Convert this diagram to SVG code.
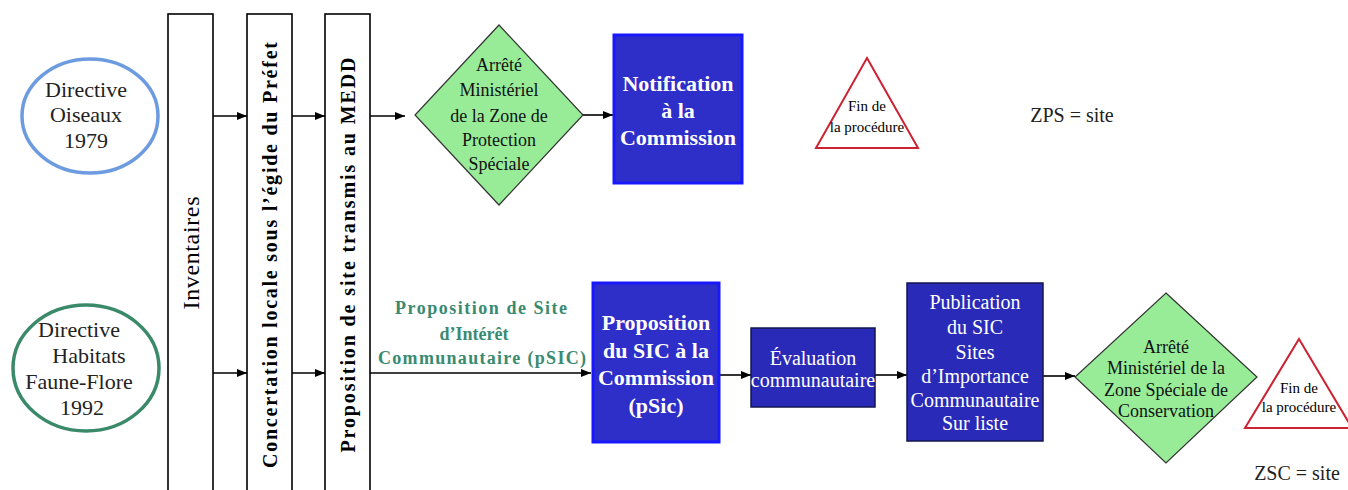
<svg xmlns="http://www.w3.org/2000/svg" width="1348" height="490" viewBox="0 0 1348 490">
<defs>
<marker id="ah" viewBox="0 0 10 10" refX="10" refY="5" markerWidth="10" markerHeight="10" markerUnits="userSpaceOnUse" orient="auto">
<path d="M0,1 L10,5 L0,9 Z" fill="#000"/>
</marker>
<style>
text{font-family:'Liberation Serif','DejaVu Serif',serif;text-anchor:middle;dominant-baseline:central}
.vbar{fill:#fff;stroke:#000;stroke-width:1.6}
.vt{font-size:24px;fill:#000}
.vtb{font-size:20px;font-weight:bold;fill:#000}
.dia{fill:#98ec98;stroke:#333;stroke-width:1.2}
.dt{font-size:18px;fill:#111}
.bb{fill:#2e2ec8;stroke:#1818ff;stroke-width:3}
.bd{fill:#2a2ab8;stroke:#141450;stroke-width:1.5}
.wtb{font-size:22px;font-weight:bold;fill:#fff}
.wt{font-size:20px;fill:#fff}
.tri{fill:#fff;stroke:#cc2233;stroke-width:2}
.tt{font-size:15px;fill:#000}
.ell{fill:#fff;stroke-width:3.5}
.et{font-size:22px;fill:#222}
.conn{stroke:#000;stroke-width:1.6;fill:none;marker-end:url(#ah)}
.lbl{font-size:18px;font-weight:bold;fill:#3a8a70}
.note{font-size:20px;fill:#222}
</style>
</defs>
<rect width="1348" height="490" fill="#fff"/>

<g id="connectors">
<line class="conn" x1="213" y1="116" x2="247" y2="116"/>
<line class="conn" x1="292" y1="116" x2="325" y2="116"/>
<line class="conn" x1="370" y1="116" x2="405" y2="116"/>
<line class="conn" x1="583" y1="115" x2="613" y2="115"/>
<line class="conn" x1="213" y1="373" x2="247" y2="373"/>
<line class="conn" x1="292" y1="373" x2="325" y2="373"/>
<line class="conn" x1="370" y1="373" x2="591" y2="373"/>
<line class="conn" x1="720" y1="375" x2="751" y2="375"/>
<line class="conn" x1="875" y1="375" x2="907" y2="375"/>
<line class="conn" x1="1043" y1="376" x2="1075" y2="376"/>
</g>

<g id="directive-oiseaux">
<ellipse class="ell" cx="90" cy="116" rx="68" ry="57" stroke="#6d9be0"/>
<text class="et" x="86" y="89">Directive</text>
<text class="et" x="86" y="114">Oiseaux</text>
<text class="et" x="86" y="140">1979</text>
</g>

<g id="directive-habitats">
<ellipse class="ell" cx="86" cy="368" rx="73" ry="63" stroke="#3a8a6a"/>
<text class="et" x="79" y="329">Directive</text>
<text class="et" x="89" y="355">Habitats</text>
<text class="et" x="79" y="381">Faune-Flore</text>
<text class="et" x="82" y="407">1992</text>
</g>

<g id="inventaires">
<rect class="vbar" x="168" y="14" width="45" height="490"/>
<text class="vt" transform="translate(191,253) rotate(-90)" textLength="113">Inventaires</text>
</g>

<g id="concertation">
<rect class="vbar" x="247" y="14" width="45" height="490"/>
<text class="vtb" transform="translate(270,255) rotate(-90)" textLength="426">Concertation locale sous l’égide du Préfet</text>
</g>

<g id="proposition-site">
<rect class="vbar" x="325" y="14" width="45" height="490"/>
<text class="vtb" transform="translate(348,255) rotate(-90)" textLength="395">Proposition de site transmis au MEDD</text>
</g>

<g id="arrete-zps">
<polygon class="dia" points="499,25 583,115 499,205 415,115"/>
<text class="dt" x="499" y="65">Arrêté</text>
<text class="dt" x="499" y="90">Ministériel</text>
<text class="dt" x="499" y="116">de la Zone de</text>
<text class="dt" x="499" y="140">Protection</text>
<text class="dt" x="499" y="164">Spéciale</text>
</g>

<g id="notification">
<rect class="bb" x="614" y="35" width="128" height="148"/>
<text class="wtb" x="678" y="83">Notification</text>
<text class="wtb" x="678" y="110">à la</text>
<text class="wtb" x="678" y="137">Commission</text>
</g>

<g id="fin-zps">
<polygon class="tri" points="867,58 918,148 816,148"/>
<text class="tt" x="867" y="106">Fin de</text>
<text class="tt" x="867" y="127">la procédure</text>
</g>

<g id="zps-note">
<text class="note" x="1072" y="115">ZPS = site</text>
</g>

<g id="psic-label">
<text class="lbl" x="481" y="308" textLength="172">Proposition de Site</text>
<text class="lbl" x="474" y="334">d’Intérêt</text>
<text class="lbl" x="482" y="358" textLength="208">Communautaire (pSIC)</text>
</g>

<g id="proposition-sic">
<rect class="bb" x="593" y="283" width="126" height="159"/>
<text class="wtb" x="656" y="322">Proposition</text>
<text class="wtb" x="656" y="350">du SIC à la</text>
<text class="wtb" x="656" y="377">Commission</text>
<text class="wtb" x="656" y="405">(pSic)</text>
</g>

<g id="evaluation">
<rect class="bd" x="751" y="328" width="124" height="79"/>
<text class="wt" x="813" y="358" font-size="15">Évaluation</text>
<text class="wt" x="813" y="380" font-size="15">communautaire</text>
</g>

<g id="publication">
<rect class="bd" x="907" y="283" width="136" height="158"/>
<text class="wt" x="975" y="302">Publication</text>
<text class="wt" x="975" y="327">du SIC</text>
<text class="wt" x="975" y="352">Sites</text>
<text class="wt" x="975" y="376">d’Importance</text>
<text class="wt" x="975" y="400">Communautaire</text>
<text class="wt" x="975" y="423">Sur liste</text>
</g>

<g id="arrete-zsc">
<polygon class="dia" points="1166,293 1257,377 1166,463 1075,377"/>
<text class="dt" x="1166" y="347">Arrêté</text>
<text class="dt" x="1166" y="368">Ministériel de la</text>
<text class="dt" x="1166" y="390">Zone  Spéciale de</text>
<text class="dt" x="1166" y="411">Conservation</text>
</g>

<g id="fin-zsc">
<polygon class="tri" points="1299,339 1352,428 1245,428"/>
<text class="tt" x="1299" y="388">Fin de</text>
<text class="tt" x="1299" y="407">la procédure</text>
</g>

<g id="zsc-note">
<text class="note" x="1297" y="473">ZSC = site</text>
</g>
</svg>
